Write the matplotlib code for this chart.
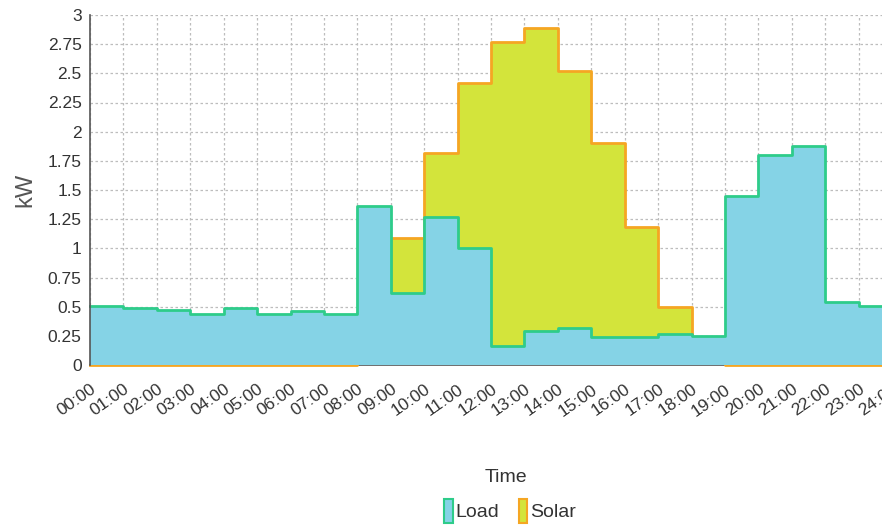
import matplotlib
matplotlib.use("Agg")
import matplotlib.pyplot as plt
from matplotlib.patches import Patch
import numpy as np

plt.rcParams['font.family'] = ['Liberation Sans', 'DejaVu Sans']

# hourly values, each covers [h, h+1)
hours = np.arange(25)
load = [0.51, 0.49, 0.47, 0.44, 0.49, 0.44, 0.46, 0.44, 1.36, 0.62, 1.27, 1.00,
        0.16, 0.29, 0.32, 0.24, 0.24, 0.27, 0.25, 1.45, 1.80, 1.88, 0.54, 0.51]
solar = [0, 0, 0, 0, 0, 0, 0, 0, 0.45, 1.09, 1.82, 2.42,
         2.765, 2.885, 2.52, 1.905, 1.18, 0.50, 0.10, 0, 0, 0, 0, 0]
tick_labels = ["%02d:00" % h for h in range(25)]
yticks = [0, 0.25, 0.5, 0.75, 1, 1.25, 1.5, 1.75, 2, 2.25, 2.5, 2.75, 3]
ytick_labels = ["0", "0.25", "0.5", "0.75", "1", "1.25", "1.5", "1.75", "2", "2.25", "2.5", "2.75", "3"]

load_fill, load_edge = "#85d3e6", "#2ecc8a"
solar_fill, solar_edge = "#d3e43b", "#f5a623"
text_col = "#333333"

W, H = 882, 527
fig = plt.figure(figsize=(W / 100, H / 100), dpi=100)
ax = fig.add_axes([90 / W, 1 - 365 / H, 802 / W, 350 / H])

load_s = load + [load[-1]]
solar_s = solar + [solar[-1]]

ax.fill_between(hours, solar_s, step="post", color=solar_fill, lw=0, zorder=2)
ax.step(hours, solar_s, where="post", color=solar_edge, lw=2, zorder=3, clip_on=False)
ax.fill_between(hours, load_s, step="post", color=load_fill, lw=0, zorder=4)
ax.step(hours, load_s, where="post", color=load_edge, lw=2, zorder=5, clip_on=False)

ax.set_xlim(0, 24)
ax.set_ylim(0, 3)
ax.set_xticks(hours)
ax.set_xticklabels(tick_labels, rotation=35, ha="right", rotation_mode="anchor",
                   fontsize=12.5, color=text_col)
ax.set_yticks(yticks)
ax.set_yticklabels(ytick_labels, fontsize=12.5, color=text_col)
ax.tick_params(axis="both", length=0, pad=6)
ax.tick_params(axis="x", pad=12)

ax.grid(True, color="#bdbdbd", linestyle=(0, (2, 2)), lw=0.9, zorder=1)
ax.set_axisbelow(True)
for s in ["top", "right"]:
    ax.spines[s].set_visible(False)
ax.spines["left"].set_color("#555555")
ax.spines["bottom"].set_color("#555555")
ax.spines["left"].set_linewidth(1.2)
ax.spines["bottom"].set_linewidth(1.2)
ax.spines["left"].set_zorder(6)

ax.set_ylabel("kW", fontsize=17, color="#555555", labelpad=8)

fig.text(506 / W, 1 - 477 / H, "Time", ha="center", va="center", fontsize=14, color=text_col)

handles = [Patch(facecolor=load_fill, edgecolor=load_edge, lw=1.5, label="Load"),
           Patch(facecolor=solar_fill, edgecolor=solar_edge, lw=1.5, label="Solar")]
fig.legend(handles=handles, loc="center", bbox_to_anchor=(510 / W, 1 - 511 / H), ncol=2,
           frameon=False, fontsize=14, handlelength=0.45, handleheight=1.6,
           handletextpad=0.15, columnspacing=1.0, labelcolor=text_col)

fig.savefig("out.png", dpi=100)
